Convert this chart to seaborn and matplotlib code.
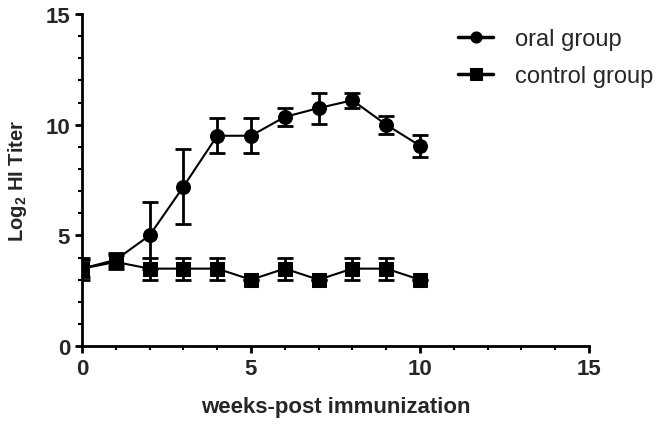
import numpy as np
import pandas as pd
import matplotlib
matplotlib.use("Agg")
import matplotlib.pyplot as plt
import seaborn as sns
from matplotlib.ticker import MultipleLocator

sns.set_theme(style="ticks")
plt.rcParams['font.family'] = ['Liberation Sans', 'DejaVu Sans']
plt.rcParams['mathtext.fontset'] = 'custom'
plt.rcParams['mathtext.bf'] = 'Liberation Sans:bold'
plt.rcParams['mathtext.rm'] = 'Liberation Sans:bold'

# Data
weeks = [0, 1, 2, 3, 4, 5, 6, 7, 8, 9, 10]
oral_mean = [3.5, 3.9, 5.0, 7.2, 9.5, 9.5, 10.35, 10.75, 11.1, 10.0, 9.05]
oral_err = [0.4, 0.3, 1.5, 1.7, 0.8, 0.8, 0.4, 0.7, 0.35, 0.4, 0.5]
ctrl_mean = [3.5, 3.8, 3.5, 3.5, 3.5, 3.0, 3.5, 3.0, 3.5, 3.5, 3.0]
ctrl_err = [0.5, 0.3, 0.5, 0.5, 0.5, 0.0, 0.5, 0.0, 0.5, 0.5, 0.0]

df = pd.DataFrame({
    'week': weeks * 2,
    'titer': oral_mean + ctrl_mean,
    'err': oral_err + ctrl_err,
    'group': ['oral group'] * len(weeks) + ['control group'] * len(weeks),
})

fig = plt.figure(figsize=(6.64, 4.27), dpi=100)
ax = fig.add_axes([0.1235, 0.187, 0.7635, 0.778])

sns.lineplot(data=df, x='week', y='titer', hue='group', style='group',
             markers={'oral group': 'o', 'control group': 's'}, dashes=False,
             palette={'oral group': 'black', 'control group': 'black'},
             markersize=10, linewidth=1.5, markeredgecolor='black',
             ax=ax, legend=True)

for g in ['oral group', 'control group']:
    sub = df[df['group'] == g]
    ax.errorbar(sub['week'], sub['titer'], yerr=sub['err'], fmt='none',
                ecolor='black', elinewidth=2, capsize=6, capthick=2)

ax.set_xlim(0, 15)
ax.set_ylim(0, 15)
ax.xaxis.set_major_locator(MultipleLocator(5))
ax.yaxis.set_major_locator(MultipleLocator(5))
ax.xaxis.set_minor_locator(MultipleLocator(1))
ax.yaxis.set_minor_locator(MultipleLocator(1))
ax.tick_params(which='major', length=5, width=2, labelsize=16, direction='out', color='black')
ax.tick_params(which='minor', length=3, width=1.5, color='black')
for lab in ax.get_xticklabels() + ax.get_yticklabels():
    lab.set_fontweight('bold')

for side in ['left', 'bottom']:
    ax.spines[side].set_linewidth(2)
    ax.spines[side].set_color('black')
sns.despine(ax=ax)

ax.set_xlabel('weeks-post immunization', fontsize=16, fontweight='bold', labelpad=12)
ax.set_ylabel(r'Log$_\mathbf{2}$ HI Titer', fontsize=14.5, fontweight='bold', labelpad=12)

handles, labels = ax.get_legend_handles_labels()
ax.legend_.remove()
leg = fig.legend(handles, labels, loc='upper left', bbox_to_anchor=(458 / 664, 0.932),
                 frameon=False, fontsize=17, handlelength=1.5, handletextpad=0.9,
                 labelspacing=0.65, borderpad=0, borderaxespad=0)
for h in leg.legend_handles:
    h.set_markersize(8)
    h.set_markeredgecolor('black')
    h.set_linewidth(2.5)

fig.savefig('out.png', dpi=100)
